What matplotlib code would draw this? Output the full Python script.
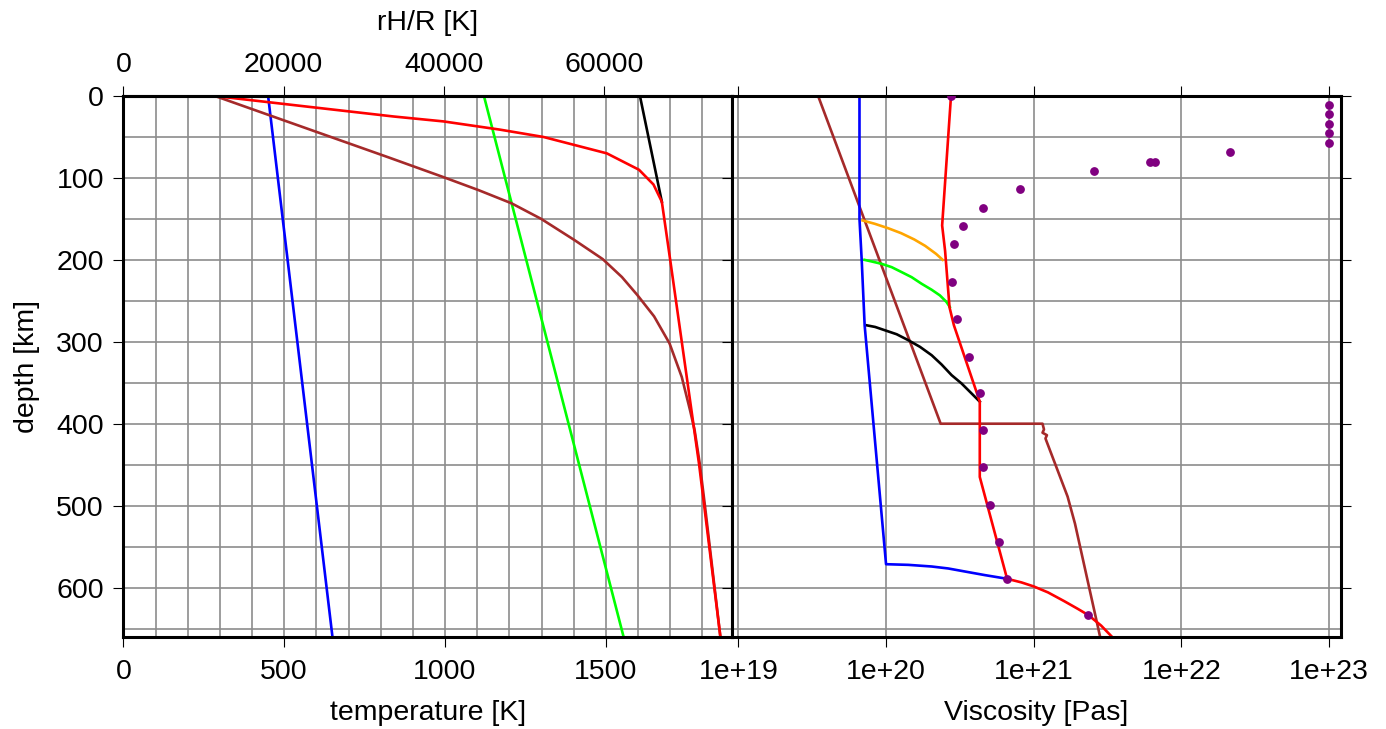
import numpy as np
import matplotlib
matplotlib.use('Agg')
import matplotlib.pyplot as plt
from matplotlib.ticker import MultipleLocator, FixedLocator, FuncFormatter, NullLocator

plt.rcParams['font.family'] = ['Liberation Sans', 'DejaVu Sans']
plt.rcParams['font.size'] = 20.5

# ---- left panel: temperature [K] against depth [km]
blue_depth = [0, 660]
blue_temp = [450, 650]
green_depth = [0, 660]
green_temp = [1121, 1555]
red_depth = [0, 12, 25, 31, 41, 50, 70, 90, 108, 129, 200, 450, 660]
red_temp = [285, 550, 840, 995, 1170, 1306, 1503, 1603, 1648, 1674, 1700, 1790, 1856]
black_depth = [0, 129]
black_temp = [1606, 1674]
brown_depth = [0, 25, 50, 75, 99, 115, 131, 150, 176, 199, 221, 243, 269, 302, 343, 384, 408, 449,
               500, 660]
brown_temp = [285, 465, 645, 825, 995, 1105, 1207, 1299, 1403, 1490, 1550, 1598, 1650, 1698, 1736,
              1762, 1776, 1792, 1808, 1856]

# ---- right panel: log10 viscosity [Pas] against depth [km]
v_red_depth = [0, 158, 189, 258, 280, 373, 465, 589.3, 593.7, 598.6, 605.9, 616.8, 626.1, 633.8,
               646.4, 660]
v_red_log = [20.44, 20.38, 20.40, 20.43, 20.46, 20.635, 20.635, 20.82, 20.917, 21.0, 21.097, 21.209,
             21.3, 21.372, 21.457, 21.53]
v_blue_depth = [0, 150, 200, 280, 571.5, 572.3, 574.3, 576.7, 580.4, 584.8, 589.3]
v_blue_log = [19.82, 19.82, 19.835, 19.855, 20.0, 20.151, 20.309, 20.421, 20.534, 20.669, 20.82]
v_orange_depth = [151.9, 156, 161.3, 167.4, 175.1, 182.9, 192.7, 200]
v_orange_log = [19.841, 19.924, 20.013, 20.102, 20.191, 20.265, 20.339, 20.384]
v_green_depth = [200, 202, 204.9, 208.9, 215, 221.1, 229.2, 236.5, 243.4, 251.5, 257.6]
v_green_log = [19.854, 19.903, 19.971, 20.038, 20.106, 20.173, 20.241, 20.309, 20.365, 20.41, 20.432]
v_black_depth = [279.9, 281.9, 286, 290.8, 298.1, 306.2, 316.4, 327.7, 340.7, 350.8, 363, 373.1]
v_black_log = [19.869, 19.926, 19.993, 20.072, 20.151, 20.23, 20.309, 20.376, 20.444, 20.511,
               20.579, 20.635]
v_brown_depth = [0, 400, 400, 407, 411, 414, 418, 489, 522, 660]
v_brown_log = [19.54, 20.37, 21.06, 21.07, 21.06, 21.09, 21.08, 21.23, 21.28, 21.45]
dot_depth = [0, 11, 22, 34, 45, 57, 68, 80, 80, 91, 113, 137, 159, 181,
             227, 272, 318, 363, 408, 453, 499, 544, 589, 634]
dot_log = [20.44, 23, 23, 23, 23, 23, 22.33, 21.79, 21.82, 21.41, 20.91, 20.66, 20.52, 20.46,
           20.45, 20.48, 20.56, 20.635, 20.655, 20.655, 20.705, 20.766, 20.82, 21.37]

temp_ticks = [0, 500, 1000, 1500]
rh_ticks = [0, 20000, 40000, 60000]
visc_ticks = [1e19, 1e20, 1e21, 1e22, 1e23]

gridc = '#8c8c8c'
lw = 1.9

fig = plt.figure(figsize=(13.86, 7.29), dpi=100)
axT = fig.add_axes([0.0890, 0.1266, 0.4391, 0.7417])
axV = fig.add_axes([0.5281, 0.1266, 0.4392, 0.7417])

for ax in (axT, axV):
    ax.set_ylim(660, 0)
    ax.set_axisbelow(True)
    ax.yaxis.set_major_locator(MultipleLocator(100))
    ax.yaxis.set_minor_locator(MultipleLocator(50))
    ax.grid(which='both', color=gridc, lw=1.2)
    ax.tick_params(which='major', direction='out', length=7, width=0.8, pad=9,
                   left=True, right=True)
    ax.tick_params(which='minor', length=0)
    for s in ax.spines.values():
        s.set_linewidth(2.2)

# left panel
axT.set_xlim(0, 1892)
axT.xaxis.set_major_locator(FixedLocator(temp_ticks))
axT.xaxis.set_minor_locator(MultipleLocator(100))
axT.tick_params(axis='y', pad=7)
axT.plot(blue_temp, blue_depth, color='#0000ff', lw=lw)
axT.plot(green_temp, green_depth, color='#00ff00', lw=lw)
axT.plot(brown_temp, brown_depth, color='#a52a2a', lw=lw)
axT.plot(black_temp, black_depth, color='black', lw=lw)
axT.plot(red_temp, red_depth, color='#ff0000', lw=lw)
axT.set_xlabel('temperature [K]', labelpad=11)
axT.set_ylabel('depth [km]', labelpad=12)

k = 75900 / 1892
top = axT.secondary_xaxis('top', functions=(lambda t: t * k, lambda r: r / k))
top.set_xticks(rh_ticks)
top.tick_params(direction='out', length=7, width=0.8, pad=6)
top.set_xlabel('rH/R [K]', labelpad=16)
top.spines['top'].set_linewidth(2.2)

# right panel
axV.set_xscale('log')
axV.set_xlim(10 ** 18.956, 10 ** 23.08)
axV.xaxis.set_major_locator(FixedLocator(visc_ticks))
axV.xaxis.set_minor_locator(NullLocator())
axV.xaxis.set_major_formatter(FuncFormatter(lambda v, p: '1e+%d' % round(np.log10(v))))
axV.tick_params(which='major', top=True, labelleft=False)
axV.plot(10 ** np.array(v_brown_log), v_brown_depth, color='#a52a2a', lw=lw)
axV.plot(10 ** np.array(v_orange_log), v_orange_depth, color='#ffa500', lw=lw)
axV.plot(10 ** np.array(v_green_log), v_green_depth, color='#00ff00', lw=lw)
axV.plot(10 ** np.array(v_black_log), v_black_depth, color='black', lw=lw)
axV.plot(10 ** np.array(v_blue_log), v_blue_depth, color='#0000ff', lw=lw)
axV.plot(10 ** np.array(v_red_log), v_red_depth, color='#ff0000', lw=lw)
axV.scatter(10 ** np.array(dot_log), dot_depth, s=28, color='#800080', zorder=5)
axV.set_xlabel('Viscosity [Pas]', labelpad=11)

fig.savefig('out.png', dpi=100)
